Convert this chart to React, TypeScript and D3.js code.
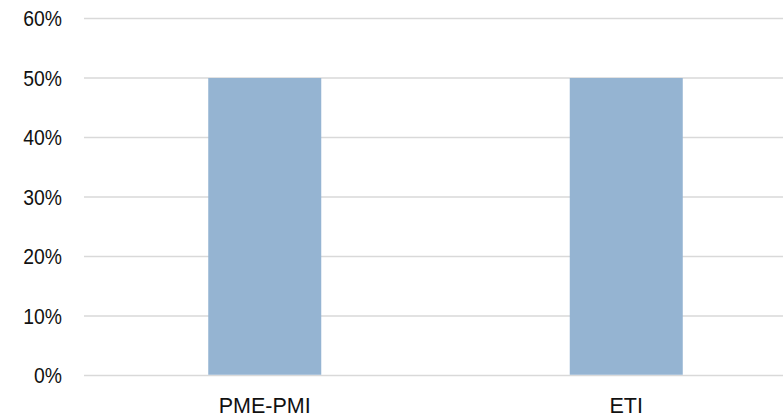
import React from "react";
import * as d3 from "d3";

const categories = ["PME-PMI", "ETI"];
const values = [0.5, 0.5];
const yTicks = [0, 0.1, 0.2, 0.3, 0.4, 0.5, 0.6];

const W = 783;
const H = 419;

export default function App() {
  const x = d3
    .scaleBand<string>()
    .domain(categories)
    .range([84, 807])
    .paddingInner(0.6874)
    .paddingOuter(0.3437);
  const y = d3.scaleLinear().domain([0, 0.6]).range([375.5, 18.5]);
  const fmt = d3.format(".0%");
  const font = "'Liberation Sans', Arial, sans-serif";

  return (
    <svg
      width={W}
      height={H}
      style={{ position: "fixed", left: 0, top: 0, background: "#fff" }}
    >
      {yTicks.map((t) => (
        <g key={t}>
          <line x1={84} x2={W} y1={y(t)} y2={y(t)} stroke="#d9d9d9" strokeWidth={1.5} />
          <text
            x={62}
            y={y(t) + 7.7}
            textAnchor="end"
            fontFamily={font}
            fontSize={21.5}
            fill="#111"
            transform={`translate(62,0) scale(0.9,1) translate(-62,0)`}
          >
            {fmt(t)}
          </text>
        </g>
      ))}
      {categories.map((c, i) => (
        <rect
          key={c}
          x={x(c)}
          y={y(values[i])}
          width={x.bandwidth()}
          height={y(0) - y(values[i]) - 0.75}
          fill="#95b4d2"
        />
      ))}
      {categories.map((c) => (
        <text
          key={c}
          x={(x(c) as number) + x.bandwidth() / 2}
          y={412.7}
          textAnchor="middle"
          fontFamily={font}
          fontSize={21.5}
          fill="#111"
        >
          {c}
        </text>
      ))}
    </svg>
  );
}
